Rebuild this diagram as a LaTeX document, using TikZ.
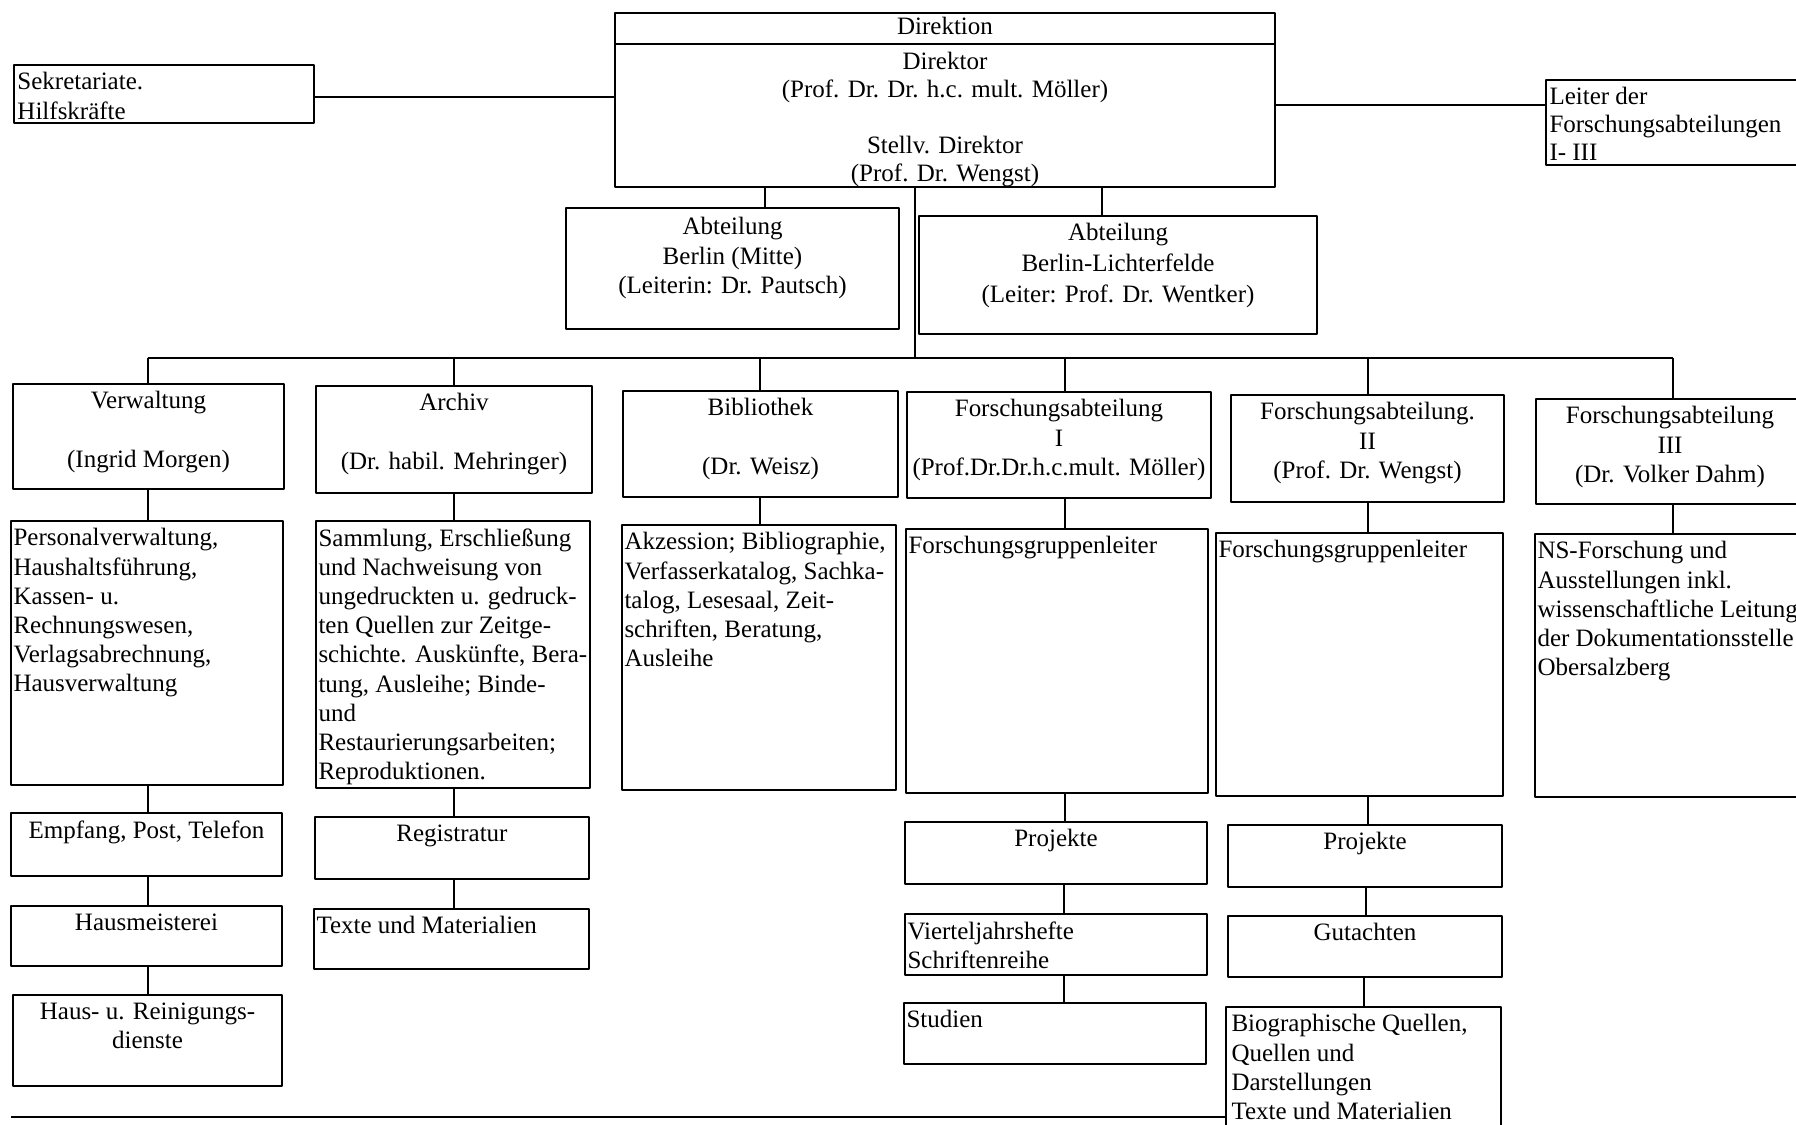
\documentclass[tikz,border=0pt]{standalone}
\usepackage{fontspec}
\setmainfont{Liberation Serif}
\usetikzlibrary{fit}
\begin{document}
\begin{tikzpicture}[x=0.5pt,y=-0.5pt,line join=round,
    font=\fontsize{12.5}{14.6}\selectfont,
    box/.style={draw,line width=0.9pt,inner sep=0pt},
    txt/.style={inner sep=1pt,anchor=north,align=center},
    ltxt/.style={inner sep=1pt,anchor=north west,align=left},
    link/.style={line width=0.8pt}]
  \useasboundingbox (0,0) rectangle (1796,1125);
  \clip (0,0) rectangle (1796,1125);
  % Direktion
  \node[box,fit={(615,13) (1275,44)}] (kopf) {};
  \node[txt] (kopf-t) at ([yshift=-1.5pt]kopf.north) {Direktion};
  \node[box,fit={(615,44) (1275,187)}] (dir) {};
  \node[txt,font=\fontsize{12.5}{14}\selectfont] (dir-t) at ([yshift=-3.5pt]dir.north)
    {Direktor\\(Prof. Dr. Dr. h.c. mult. Möller)\\[14pt]Stellv. Direktor\\(Prof. Dr. Wengst)};
  \node[box,fit={(14,65) (314,123)}] (sek) {};
  \node[ltxt] (sek-t) at ([xshift=1pt,yshift=-3pt]sek.north west) {Sekretariate.\\Hilfskräfte};
  \node[box,fit={(1546,80) (1810,165)}] (leiter) {};
  \node[ltxt,font=\fontsize{12.5}{13.8}\selectfont] (leiter-t) at ([xshift=1pt,yshift=-3pt]leiter.north west)
    {Leiter der\\Forschungsabteilungen\\I- III};
  \draw[link] (sek.east |- 0,97) -- (dir.west |- 0,97);
  \draw[link] (dir.east |- 0,105) -- (leiter.west |- 0,105);
  % Abteilungen
  \node[box,fit={(566,208) (899,329)}] (abtm) {};
  \node[txt] (abtm-t) at ([yshift=-4pt]abtm.north) {Abteilung\\Berlin (Mitte)\\(Leiterin: Dr. Pautsch)};
  \node[box,fit={(919,216) (1317,334)}] (abtl) {};
  \node[txt,font=\fontsize{12.5}{15.4}\selectfont] (abtl-t) at ([yshift=-3pt]abtl.north)
    {Abteilung\\Berlin-Lichterfelde\\(Leiter: Prof. Dr. Wentker)};
  \draw[link] (dir.south -| 765,0) -- (abtm.north -| 765,0);
  \draw[link] (dir.south -| 1102,0) -- (abtl.north -| 1102,0);
  % Bereiche
  \node[box,fit={(13,384) (284,489)}] (verw) {};
  \node[txt] (verw-t) at ([yshift=-3pt]verw.north) {Verwaltung\\[14.6pt](Ingrid Morgen)};
  \node[box,fit={(316,386) (592,493)}] (arch) {};
  \node[txt] (arch-t) at ([yshift=-3pt]arch.north) {Archiv\\[14.6pt](Dr. habil. Mehringer)};
  \node[box,fit={(623,391) (898,497)}] (bib) {};
  \node[txt] (bib-t) at ([yshift=-3pt]bib.north) {Bibliothek\\[14.6pt](Dr. Weisz)};
  \node[box,fit={(907,392) (1211,498)}] (fa1) {};
  \node[txt] (fa1-t) at ([yshift=-3pt]fa1.north) {Forschungsabteilung\\I\\(Prof.Dr.Dr.h.c.mult. Möller)};
  \node[box,fit={(1231,395) (1504,502)}] (fa2) {};
  \node[txt] (fa2-t) at ([yshift=-3pt]fa2.north) {Forschungsabteilung.\\II\\(Prof. Dr. Wengst)};
  \node[box,fit={(1536,399) (1810,504)}] (fa3) {};
  \node[txt] (fa3-t) at ([xshift=-1.5pt,yshift=-3pt]fa3.north) {Forschungsabteilung\\III\\(Dr. Volker Dahm)};
  \coordinate (bus) at (0,358);
  \draw[link] (dir.south -| 915,0) -- (bus -| 915,0);
  \draw[link] (bus -| 148,0) -- (bus -| 1673,0);
  \foreach \x/\b in {148/verw,454/arch,760/bib,1065/fa1,1368/fa2,1673/fa3}
    \draw[link] (bus -| \x,0) -- (\b.north -| \x,0);
  % Aufgaben
  \node[box,fit={(11,521) (283,785)}] (pers) {};
  \node[ltxt] (pers-t) at ([xshift=0.5pt,yshift=-3pt]pers.north west)
    {Personalverwaltung,\\Haushaltsführung,\\Kassen- u.\\Rechnungswesen,\\Verlagsabrechnung,\\Hausverwaltung};
  \node[box,fit={(316,521) (590,788)}] (samm) {};
  \node[ltxt] (samm-t) at ([xshift=0.5pt,yshift=-3pt]samm.north west)
    {Sammlung, Erschließung\\und Nachweisung von\\ungedruckten u. gedruck-\\ten Quellen zur Zeitge-\\schichte. Auskünfte, Bera-\\tung, Ausleihe; Binde-\\und\\Restaurierungsarbeiten;\\Reproduktionen.};
  \node[box,fit={(622,525) (896,790)}] (akz) {};
  \node[ltxt] (akz-t) at ([xshift=0.5pt,yshift=-3pt]akz.north west)
    {Akzession; Bibliographie,\\Verfasserkatalog, Sachka-\\talog, Lesesaal, Zeit-\\schriften, Beratung,\\Ausleihe};
  \node[box,fit={(906,529) (1208,793)}] (fgl1) {};
  \node[ltxt] (fgl1-t) at ([xshift=0.5pt,yshift=-3pt]fgl1.north west) {Forschungsgruppenleiter};
  \node[box,fit={(1216,533) (1503,796)}] (fgl2) {};
  \node[ltxt] (fgl2-t) at ([xshift=0.5pt,yshift=-3pt]fgl2.north west) {Forschungsgruppenleiter};
  \node[box,fit={(1535,534) (1810,797)}] (ns) {};
  \node[ltxt] (ns-t) at ([xshift=0.5pt,yshift=-3pt]ns.north west)
    {NS-Forschung und\\Ausstellungen inkl.\\wissenschaftliche Leitung\\der Dokumentationsstelle\\Obersalzberg};
  % untere Ebenen
  \node[box,fit={(11,813) (282,876)}] (emp) {};
  \node[txt] (emp-t) at ([yshift=-3pt]emp.north) {Empfang, Post, Telefon};
  \node[box,fit={(11,906) (282,966)}] (haus) {};
  \node[txt] (haus-t) at ([yshift=-3pt]haus.north) {Hausmeisterei};
  \node[box,fit={(13,995) (282,1086)}] (rein) {};
  \node[txt] (rein-t) at ([yshift=-3pt]rein.north) {Haus- u. Reinigungs-\\dienste};
  \node[box,fit={(315,817) (589,879)}] (reg) {};
  \node[txt] (reg-t) at ([yshift=-3pt]reg.north) {Registratur};
  \node[box,fit={(314,909) (589,969)}] (texte) {};
  \node[ltxt] (texte-t) at ([xshift=0.5pt,yshift=-3pt]texte.north west) {Texte und Materialien};
  \node[box,fit={(905,822) (1207,884)}] (proj1) {};
  \node[txt] (proj1-t) at ([yshift=-3pt]proj1.north) {Projekte};
  \node[box,fit={(905,914) (1207,975)}] (viert) {};
  \node[ltxt] (viert-t) at ([xshift=0.5pt,yshift=-3pt]viert.north west) {Vierteljahrshefte\\Schriftenreihe};
  \node[box,fit={(904,1003) (1206,1064)}] (stud) {};
  \node[ltxt] (stud-t) at ([xshift=0.5pt,yshift=-3pt]stud.north west) {Studien};
  \node[box,fit={(1228,825) (1502,887)}] (proj2) {};
  \node[txt] (proj2-t) at ([yshift=-3pt]proj2.north) {Projekte};
  \node[box,fit={(1228,916) (1502,977)}] (gut) {};
  \node[txt] (gut-t) at ([yshift=-3pt]gut.north) {Gutachten};
  \node[box,fit={(1226,1007) (1501,1150)}] (bio) {};
  \node[ltxt] (bio-t) at ([xshift=2pt,yshift=-3pt]bio.north west)
    {Biographische Quellen,\\Quellen und\\Darstellungen\\Texte und Materialien};
  \foreach \x/\a/\b in {148/verw/pers,148/pers/emp,148/emp/haus,148/haus/rein,
      454/arch/samm,454/samm/reg,454/reg/texte,760/bib/akz,
      1065/fa1/fgl1,1065/fgl1/proj1,1064/proj1/viert,1064/viert/stud,
      1368/fa2/fgl2,1368/fgl2/proj2,1366/proj2/gut,1364/gut/bio,1673/fa3/ns}
    \draw[link] (\a.south -| \x,0) -- (\b.north -| \x,0);
  \coordinate (fuss) at (11,1117);
  \draw[link] (fuss) -- (fuss -| bio.west);
\end{tikzpicture}
\end{document}
